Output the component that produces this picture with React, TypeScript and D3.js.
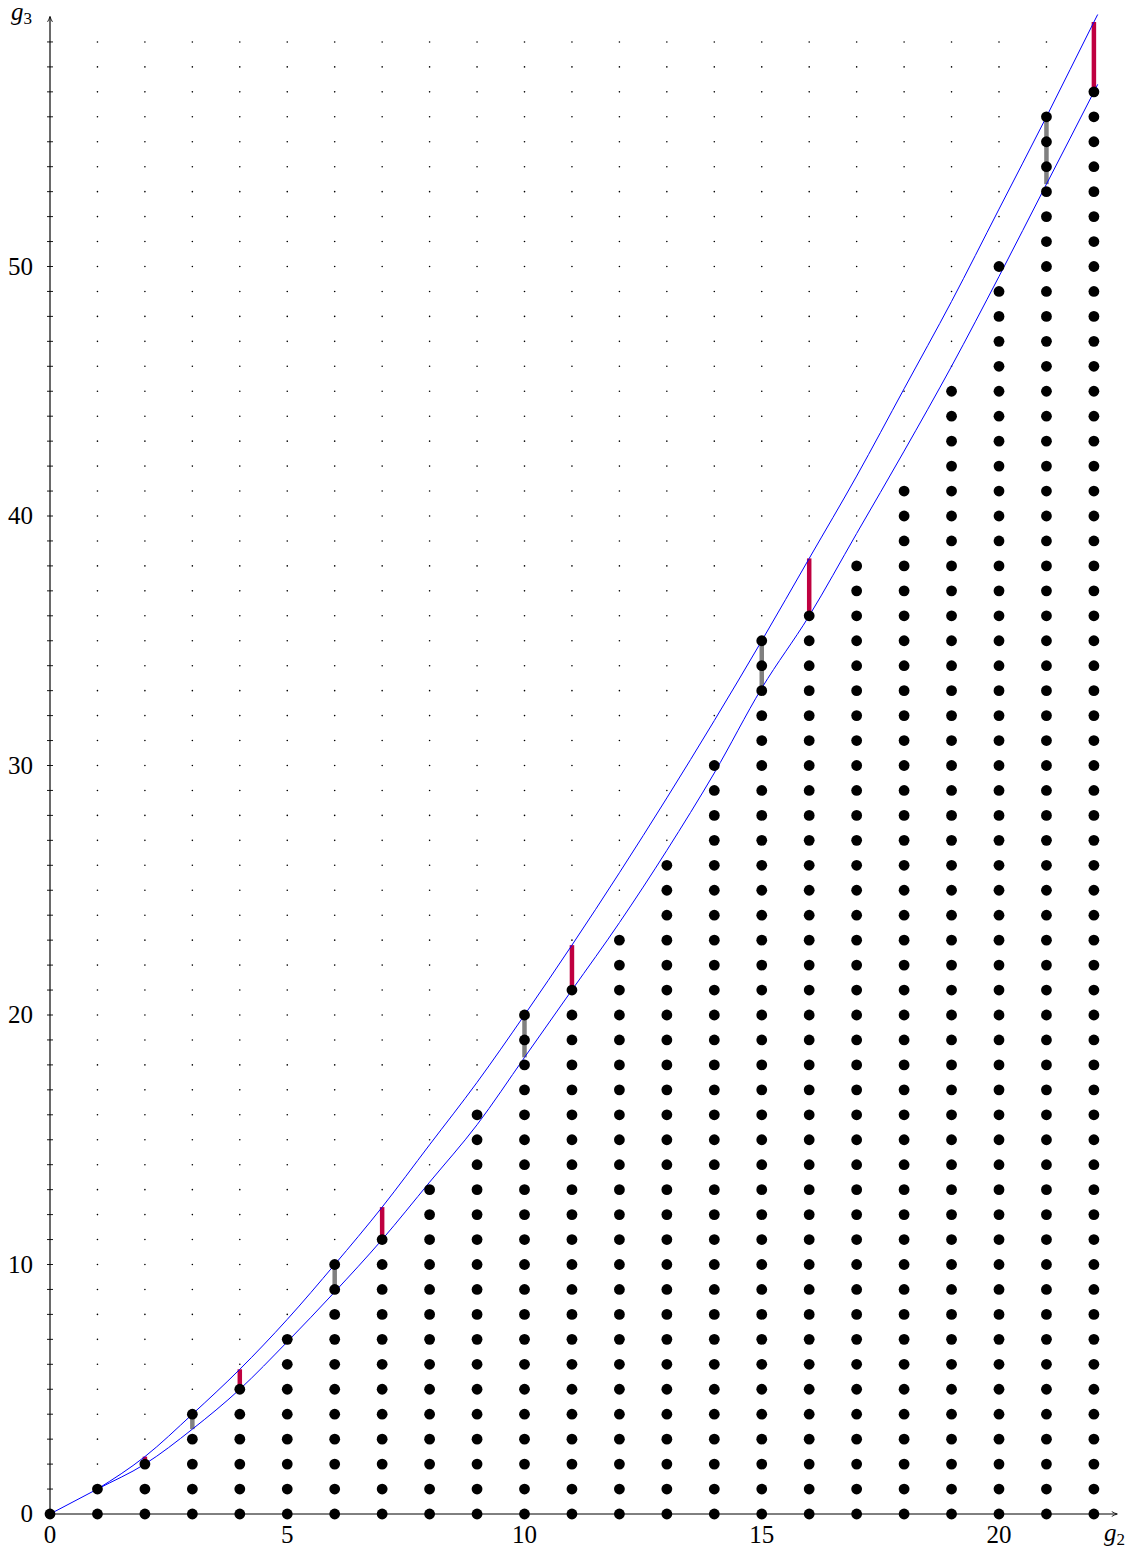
import * as d3 from "d3";
import { useEffect, useRef } from "react";

// Highest attained g3 for every g2 (column tops of the big dots).
const g2Values = d3.range(0, 23);
const columnTops = [0, 1, 2, 4, 5, 7, 10, 11, 13, 16, 20, 21, 23, 26, 30, 35, 36, 38, 41, 45, 50, 56, 57];

// Upper bound curve.
const upperX = [1, 2, 3, 4, 5, 6, 7, 8, 9, 10, 11, 12, 13, 14, 15, 16, 17, 18, 19, 20, 21, 22, 22.08];
const upperY = [1, 2.3, 4, 5.8, 7.8, 10, 12.3, 14.8, 17.3, 20, 22.8, 25.7, 28.7, 31.8, 35, 38.3, 41.6, 45.1, 48.6, 52.3, 56, 59.8, 60.1];

// Lower bound curve.
const lowerX = [0, 1, 2, 3, 4, 5, 6, 7, 8, 9, 10, 11, 12, 13, 14, 15, 16, 17, 18, 19, 20, 21, 22, 22.08];
const lowerY = [0, 1, 2, 3.4, 5, 6.9, 8.9, 11, 13.3, 15.6, 18.3, 21, 23.7, 26.6, 29.7, 33.1, 36, 39.3, 42.6, 46, 49.6, 53.3, 57, 57.3];

// Red gaps: from the column top up to the upper curve.
const redX = [2, 4, 7, 11, 16, 22];
const redTop = [2.3, 5.8, 12.3, 22.8, 38.3, 59.8];

// Gray gaps: from the lower curve up to the column top.
const grayX = [3, 6, 10, 15, 21];
const grayBottom = [3.4, 8.9, 18.3, 33.1, 53.3];

const xTicks = [0, 5, 10, 15, 20];
const yTicks = [0, 10, 20, 30, 40, 50];

const App = () => {
  const svgRef = useRef<SVGSVGElement | null>(null);

  useEffect(() => {
    if (!svgRef.current) return;
    const svg = d3.select(svgRef.current);
    svg.selectAll("*").remove();

    const x = d3.scaleLinear().domain([0, 22]).range([50, 50 + 22 * 47.45]);
    const y = d3.scaleLinear().domain([0, 60]).range([1514, 1514 - 60 * 24.95]);
    const font = "'Liberation Serif', 'DejaVu Serif', serif";

    const defs = svg.append("defs");
    const arrow = (id: string, color: string) =>
      defs
        .append("marker")
        .attr("id", id)
        .attr("viewBox", "0 0 10 10")
        .attr("refX", 8)
        .attr("refY", 5)
        .attr("markerWidth", 7)
        .attr("markerHeight", 7)
        .attr("markerUnits", "userSpaceOnUse")
        .attr("orient", "auto")
        .append("path")
        .attr("d", "M1,1.5 Q5,4 9,5 Q5,6 1,8.5")
        .attr("fill", "none")
        .attr("stroke", color)
        .attr("stroke-width", 1.2);
    arrow("arrX", "#000");
    arrow("arrY", "#000");

    // background grid of tiny dots
    const grid: [number, number][] = [];
    for (let i = 1; i <= 22; i++) {
      for (let j = 1; j <= 59; j++) {
        if (j > columnTops[i]) grid.push([i, j]);
      }
    }
    svg
      .append("g")
      .selectAll("circle")
      .data(grid)
      .join("circle")
      .attr("cx", (d) => x(d[0]))
      .attr("cy", (d) => y(d[1]))
      .attr("r", 0.8)
      .attr("fill", "#000");

    // axes
    svg
      .append("line")
      .attr("x1", x(0))
      .attr("x2", x(22.48))
      .attr("y1", y(0))
      .attr("y2", y(0))
      .attr("stroke", "#000")
      .attr("stroke-width", 1)
      .attr("marker-end", "url(#arrX)");
    svg
      .append("line")
      .attr("x1", x(0))
      .attr("x2", x(0))
      .attr("y1", y(0))
      .attr("y2", y(60))
      .attr("stroke", "#6a6a6a")
      .attr("stroke-width", 2)
      .attr("marker-end", "url(#arrY)");
    svg
      .append("g")
      .selectAll("line")
      .data(d3.range(1, 60))
      .join("line")
      .attr("x1", x(0) - 3)
      .attr("x2", x(0) + 3)
      .attr("y1", (d) => y(d))
      .attr("y2", (d) => y(d))
      .attr("stroke", "#000")
      .attr("stroke-width", 0.9);

    // tick labels
    svg
      .append("g")
      .selectAll("text")
      .data(xTicks)
      .join("text")
      .attr("x", (d) => x(d))
      .attr("y", y(0) + 29)
      .attr("text-anchor", "middle")
      .style("font-family", font)
      .style("font-size", "25px")
      .text((d) => d);
    svg
      .append("g")
      .selectAll("text")
      .data(yTicks)
      .join("text")
      .attr("x", x(0) - 17)
      .attr("y", (d) => y(d) + 8)
      .attr("text-anchor", "end")
      .style("font-family", font)
      .style("font-size", "25px")
      .text((d) => d);

    // axis names
    const g3 = svg
      .append("text")
      .attr("x", 11)
      .attr("y", 20)
      .style("font-family", font)
      .style("font-size", "25px");
    g3.append("tspan").style("font-style", "italic").text("g");
    g3.append("tspan").style("font-size", "17px").attr("dy", 4).text("3");
    const g2 = svg
      .append("text")
      .attr("x", 1104)
      .attr("y", 1541)
      .style("font-family", font)
      .style("font-size", "25px");
    g2.append("tspan").style("font-style", "italic").text("g");
    g2.append("tspan").style("font-size", "17px").attr("dy", 4).text("2");

    // gap bars
    svg
      .append("g")
      .selectAll("line")
      .data(grayX.map((gx, i) => ({ gx, lo: grayBottom[i], hi: columnTops[gx] })))
      .join("line")
      .attr("x1", (d) => x(d.gx))
      .attr("x2", (d) => x(d.gx))
      .attr("y1", (d) => y(d.lo))
      .attr("y2", (d) => y(d.hi))
      .attr("stroke", "#808080")
      .attr("stroke-width", 4.5);
    svg
      .append("g")
      .selectAll("line")
      .data(redX.map((rx, i) => ({ rx, lo: columnTops[rx], hi: redTop[i] })))
      .join("line")
      .attr("x1", (d) => x(d.rx))
      .attr("x2", (d) => x(d.rx))
      .attr("y1", (d) => y(d.lo))
      .attr("y2", (d) => y(d.hi))
      .attr("stroke", "#bf0040")
      .attr("stroke-width", 4.5);

    // bound curves
    const line = d3
      .line<[number, number]>()
      .x((d) => x(d[0]))
      .y((d) => y(d[1]))
      .curve(d3.curveMonotoneX);
    svg
      .append("path")
      .attr("d", line(upperX.map((v, i) => [v, upperY[i]])))
      .attr("fill", "none")
      .attr("stroke", "#0000ff")
      .attr("stroke-width", 1);
    svg
      .append("path")
      .attr("d", line(lowerX.map((v, i) => [v, lowerY[i]])))
      .attr("fill", "none")
      .attr("stroke", "#0000ff")
      .attr("stroke-width", 1);

    // attained points
    const dots: [number, number][] = [];
    g2Values.forEach((g) => {
      for (let j = 0; j <= columnTops[g]; j++) dots.push([g, j]);
    });
    svg
      .append("g")
      .selectAll("circle")
      .data(dots)
      .join("circle")
      .attr("cx", (d) => x(d[0]))
      .attr("cy", (d) => y(d[1]))
      .attr("r", 5.4)
      .attr("fill", "#000");
  }, []);

  return (
    <svg
      ref={svgRef}
      width={1133}
      height={1550}
      style={{ position: "absolute", left: 0, top: 0, background: "#fff" }}
    />
  );
};

export default App;
